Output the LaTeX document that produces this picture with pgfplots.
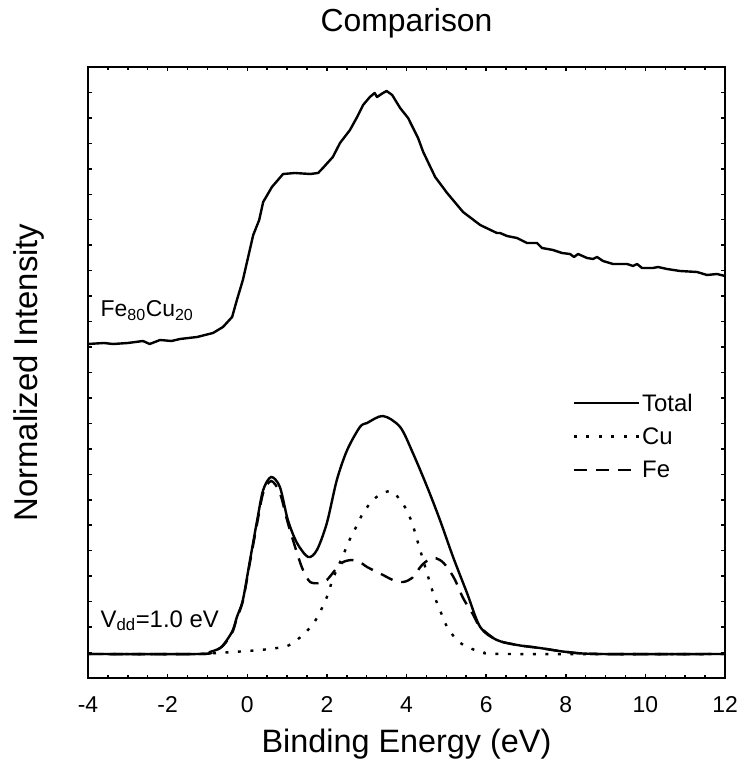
\documentclass[border=0pt]{standalone}
\usepackage{pgfplots}
\pgfplotsset{compat=1.18}
\usepackage{fontspec}
\setmainfont{Liberation Sans}
\begin{document}
\begin{tikzpicture}
\path (-88bp,-92bp) rectangle (651bp,678bp);
\begin{axis}[
  at={(0,0)}, anchor=south west,
  width=637bp, height=611bp, scale only axis,
  every axis/.append style={line width=1.5bp},
  xmin=-4, xmax=12, ymin=0, ymax=611,
  xtick={-4,-2,0,2,4,6,8,10,12},
  minor x tick num=3,
  ytick={25.46,50.92,76.38,101.83,127.29,152.75,178.21,203.67,229.13,254.58,280.04,305.5,330.96,356.42,381.88,407.33,432.79,458.25,483.71,509.17,534.63,560.08,585.54},
  yticklabels={},
  tick align=inside,
  tick style={black, line width=1.5bp},
  /pgf/number format/assume math mode=true,
  xticklabel style={font=\fontsize{23}{23}\selectfont, anchor=base, yshift=-34bp},
  xlabel={Binding Energy (eV)},
  ylabel={Normalized Intensity},
  title={Comparison},
  xlabel style={font=\fontsize{32.5}{32.5}\selectfont, at={(axis description cs:0.5,-0.1227)}, anchor=base},
  ylabel style={font=\fontsize{33}{33}\selectfont, at={(axis description cs:-0.0785,0.5)}, anchor=base},
  title style={font=\fontsize{32}{32}\selectfont, at={(axis description cs:0.5,1.0475)}, anchor=base},
  legend cell align=left,
  legend image code/.code={\draw[#1] (0bp,0bp) -- (65bp,0bp);},
  legend style={draw=none, fill=none, at={(axis cs:8.158,287)}, anchor=north west,
    inner sep=0pt, font=\fontsize{24}{24}\selectfont, row sep=11bp,
    nodes={inner sep=2bp},
    /tikz/every even column/.append style={column sep=4bp}},
]
\addplot[black, line width=2.4bp, line join=round] coordinates {
(-4.00,334) (-3.60,335) (-3.37,334) (-3.00,335) (-2.62,337) (-2.45,334) (-2.19,338)
(-1.90,337) (-1.69,339) (-1.26,341) (-0.86,345) (-0.61,351) (-0.38,361) (-0.26,378)
(-0.11,398) (0.15,443) (0.30,458) (0.40,476) (0.62,491) (0.90,504) (1.20,505)
(1.58,504) (1.78,505) (1.90,510) (2.15,521) (2.33,535) (2.58,548) (2.76,561)
(2.91,573) (3.08,581) (3.20,585) (3.26,581) (3.41,585) (3.50,587) (3.64,583)
(3.84,570) (4.04,560) (4.29,540) (4.42,526) (4.72,501) (5.02,485) (5.42,466)
(5.85,453) (6.27,445) (6.349,445) (6.525,442) (6.776,440) (7.027,435) (7.278,435)
(7.404,430) (7.680,428) (7.906,425) (8.107,424) (8.208,421) (8.308,424) (8.534,420)
(8.685,419) (8.786,421) (8.936,417) (9.188,414) (9.539,414) (9.690,412) (9.790,414)
(9.916,410) (10.192,410) (10.318,411) (10.544,409) (10.870,407) (11.297,406)
(11.548,403) (11.799,404) (12.0,402)
};
\addlegendentry{Total}
\addplot[black, line width=2.4bp, dash pattern=on 3bp off 9.5bp, forget plot, smooth, tension=0.5] coordinates {
(-4,24) (-1.5,24) (-0.76,25) (0.32,28) (0.90,31) (1.15,35) (1.50,47) (1.75,60)
(2.00,81) (2.15,99) (2.41,123) (2.58,139) (2.76,153) (2.91,165) (3.16,178)
(3.41,185) (3.66,186) (3.96,171) (4.14,155) (4.29,135) (4.47,111) (4.67,85)
(4.84,68) (5.02,51) (5.27,38) (5.52,31) (5.92,26) (6.52,24) (12,24)
};
\addplot[black, line width=2.4bp, dash pattern=on 13bp off 9bp, forget plot, smooth, tension=0.5] coordinates {
(-4,24) (-1.19,24) (-0.94,26) (-0.68,30) (-0.51,37) (-0.36,47) (-0.26,60) (-0.11,77)
(0.07,116) (0.25,155) (0.40,185) (0.60,197) (0.82,185) (1.02,155) (1.25,125)
(1.40,108) (1.58,96) (1.83,95) (2.00,98) (2.25,110) (2.41,116) (2.63,118)
(2.83,116) (3.01,111) (3.41,103) (3.66,98) (3.91,96) (4.14,100) (4.39,113)
(4.64,120) (4.84,118) (5.02,111) (5.22,98) (5.42,80) (5.65,65) (5.85,51)
(6.27,38) (6.78,33) (7.35,30) (8.03,26) (8.86,24) (12,24)
};
\addplot[black, line width=2.4bp, smooth, tension=0.5, forget plot] coordinates {
(-4,24) (-1.19,24) (-0.94,26) (-0.68,30) (-0.51,38) (-0.36,48) (-0.26,61) (-0.11,78)
(0.07,118) (0.25,158) (0.40,188) (0.60,201) (0.82,191) (1.02,158) (1.25,135)
(1.53,121) (1.75,128) (2.00,155) (2.25,198) (2.51,228) (2.83,251) (3.01,255)
(3.41,262) (3.84,251) (4.16,225) (4.52,191) (4.84,158) (5.17,121) (5.52,85)
(5.85,51) (6.27,38) (6.78,33) (7.35,30) (8.03,26) (8.86,24) (12,24)
};
\addlegendimage{black, line width=2.4bp, dash pattern=on 3bp off 9.5bp}
\addlegendentry{Cu}
\addlegendimage{black, line width=2.4bp, dash pattern=on 13bp off 9bp}
\addlegendentry{Fe}
\node[anchor=base west, font=\fontsize{23}{23}\selectfont, inner sep=0pt] at (axis cs:-3.70,361) {Fe\textsubscript{80}Cu\textsubscript{20}};
\node[anchor=base west, font=\fontsize{24}{24}\selectfont, inner sep=0pt] at (axis cs:-3.70,51) {V\textsubscript{dd}=1.0 eV};
\end{axis}
\end{tikzpicture}
\end{document}
